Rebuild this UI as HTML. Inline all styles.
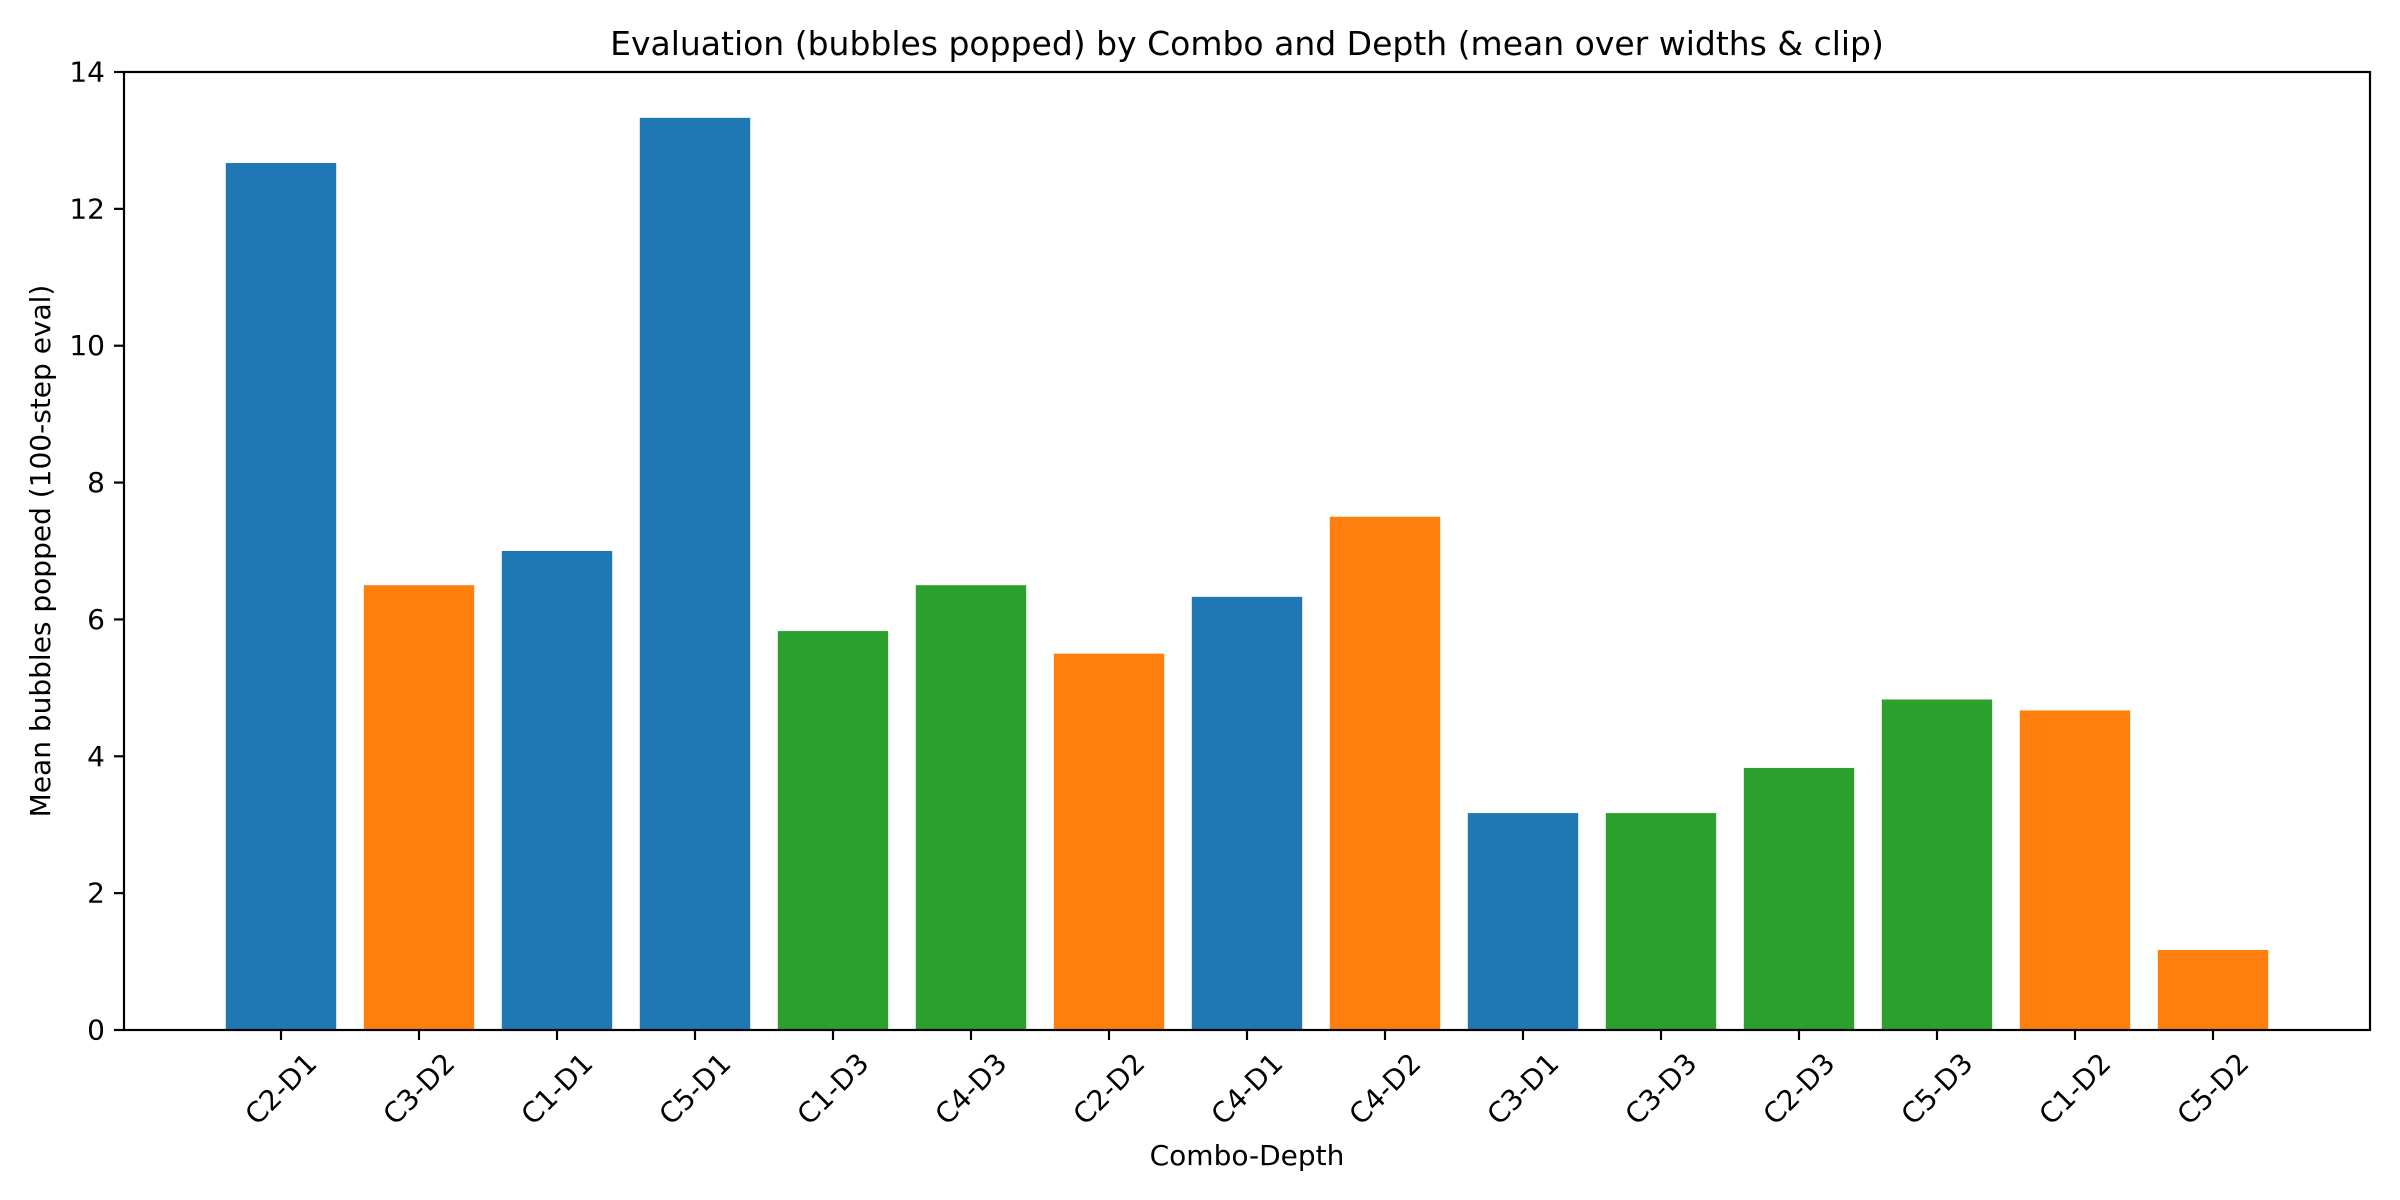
<!DOCTYPE html>
<html><head><meta charset="utf-8"><style>
html,body{margin:0;padding:0;background:#fff;}
svg{display:block;font-family:"DejaVu Sans","Liberation Sans",sans-serif;}
</style></head><body>
<svg id="chart" width="2400" height="1200" viewBox="0 0 2400 1200">
<rect width="2400" height="1200" fill="#fff"/>
<text x="1247" y="55" font-size="33" text-anchor="middle" fill="#000">Evaluation (bubbles popped) by Combo and Depth (mean over widths &amp; clip)</text>
<text x="1247" y="1165" font-size="28" text-anchor="middle" fill="#000">Combo-Depth</text>
<text transform="translate(50,551) rotate(-90)" font-size="28" text-anchor="middle" fill="#000">Mean bubbles popped (100-step eval)</text>
<g id="bars"></g>
<g id="ticks"></g>
<rect x="124" y="72" width="2246" height="958" fill="none" stroke="#000" stroke-width="2.2"/>
</svg>
<script>
const categories = ["C2-D1","C3-D2","C1-D1","C5-D1","C1-D3","C4-D3","C2-D2","C4-D1","C4-D2","C3-D1","C3-D3","C2-D3","C5-D3","C1-D2","C5-D2"];
const values = [12.67,6.5,7.0,13.33,5.83,6.5,5.5,6.33,7.5,3.17,3.17,3.83,4.83,4.67,1.17];
const depths = [1,2,1,1,3,3,2,1,2,1,3,3,3,2,2];
const yTicks = [0,2,4,6,8,10,12,14];

const NS = "http://www.w3.org/2000/svg";
const colors = {1:"#1f77b4",2:"#ff7f0e",3:"#2ca02c"};
const plotLeft=124, plotRight=2370, plotTop=72, plotBottom=1030, yMax=14;
const pitch=138, x0=281;
function xPos(i){return x0+i*pitch;}
function yPos(v){return plotBottom-(v/yMax)*(plotBottom-plotTop);}
const bw=pitch*0.8;
const barsG=document.getElementById('bars'), ticksG=document.getElementById('ticks');
function mk(tag,attrs,parent){const e=document.createElementNS(NS,tag);for(const k in attrs)e.setAttribute(k,attrs[k]);parent.appendChild(e);return e;}
categories.forEach((c,i)=>{
  const r=mk('rect',{x:xPos(i)-bw/2,y:yPos(values[i]),width:bw,height:yPos(0)-yPos(values[i]),fill:colors[depths[i]]},barsG);
  
  
  const t=mk('line',{x1:xPos(i),x2:xPos(i),y1:plotBottom,y2:plotBottom+10,stroke:'#000','stroke-width':2.2},ticksG);
  
  
  const l=mk('text',{transform:'translate('+xPos(i)+',1089) rotate(-45)','font-size':28,'text-anchor':'middle','dominant-baseline':'central',fill:'#000'},ticksG);
  l.textContent=c;
  
  
});
yTicks.forEach(v=>{
  const t=mk('line',{x1:plotLeft-10,x2:plotLeft,y1:yPos(v),y2:yPos(v),stroke:'#000','stroke-width':2.2},ticksG);
  
  
  const l=mk('text',{x:plotLeft-19,y:yPos(v),'font-size':28,'text-anchor':'end','dominant-baseline':'central',fill:'#000'},ticksG);
  l.textContent=v;
  
  
});
</script>
</body></html>
